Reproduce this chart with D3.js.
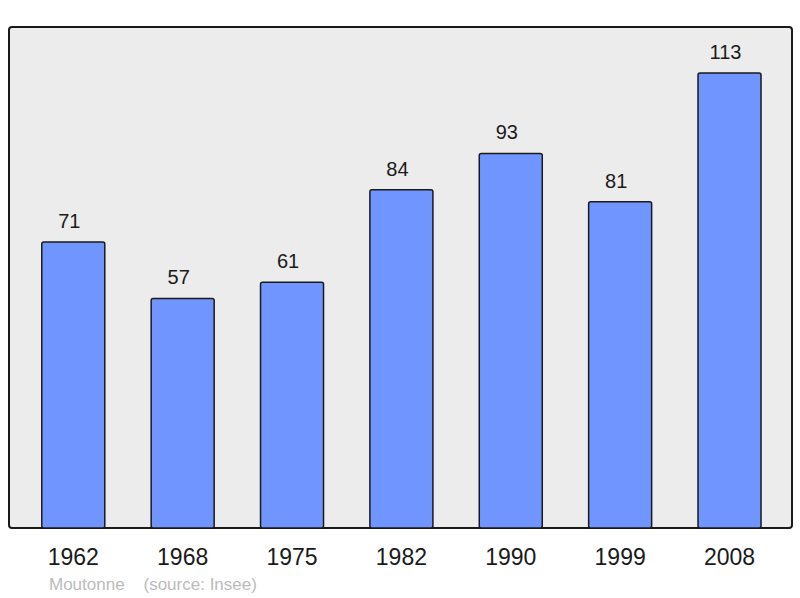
<!DOCTYPE html>
<html>
<head>
<meta charset="utf-8">
<script src="https://cdn.jsdelivr.net/npm/d3@7"></script>
<style>
  body { margin: 0; background: #fff; }
  svg { display: block; font-family: "Liberation Sans", Arial, sans-serif; }
</style>
</head>
<body>
<div id="chart"></div>
<script>
// Population data
var years = ["1962", "1968", "1975", "1982", "1990", "1999", "2008"];
var population = [71, 57, 61, 84, 93, 81, 113];

var width = 800, height = 598;
var panel = {left: 9, top: 27, right: 792, bottom: 528};

var svg = d3.select("#chart")
  .append("svg")
  .attr("width", width)
  .attr("height", height);

// scales
var x = d3.scaleBand()
  .domain(years)
  .range([18.6, 784.2])
  .paddingInner(0.424)
  .paddingOuter(0.212);

var y = d3.scaleLinear()
  .domain([0, 124.4])
  .range([panel.bottom, panel.top]);

// background panel
svg.append("rect")
  .attr("x", panel.left)
  .attr("y", panel.top)
  .attr("width", panel.right - panel.left)
  .attr("height", panel.bottom - panel.top)
  .attr("rx", 3)
  .attr("fill", "#ececec")
  .attr("stroke", "#1a1a1a")
  .attr("stroke-width", 2);

// bars
svg.selectAll("rect.bar")
  .data(population)
  .enter()
  .append("rect")
  .attr("class", "bar")
  .attr("x", function(d, i) { return x(years[i]); })
  .attr("y", function(d) { return y(d); })
  .attr("width", x.bandwidth())
  .attr("height", function(d) { return y(0) - y(d); })
  .attr("rx", 2)
  .attr("fill", "#7095ff")
  .attr("stroke", "#1a1a1a")
  .attr("stroke-width", 1.5);

// value labels
svg.selectAll("text.value")
  .data(population)
  .enter()
  .append("text")
  .attr("class", "value")
  .attr("x", function(d, i) { return x(years[i]) + x.bandwidth() / 2 - 4; })
  .attr("y", function(d) { return y(d) - 14; })
  .attr("text-anchor", "middle")
  .attr("font-size", 20)
  .attr("fill", "#1a1a1a")
  .text(function(d) { return d; });

// x axis labels
var xAxis = d3.axisBottom(x).tickSize(0).tickPadding(0);
var gx = svg.append("g")
  .attr("transform", "translate(0," + (panel.bottom + 21) + ")")
  .call(xAxis);
gx.select(".domain").remove();
gx.selectAll("text")
  .attr("font-size", 23)
  .attr("fill", "#1a1a1a")
  .attr("font-family", "'Liberation Sans', Arial, sans-serif");

// caption
svg.append("text")
  .attr("x", 49)
  .attr("y", 590)
  .attr("font-size", 17)
  .attr("fill", "#bbbbbb")
  .attr("xml:space", "preserve")
  .text("Moutonne    (source: Insee)");
</script>
</body>
</html>
